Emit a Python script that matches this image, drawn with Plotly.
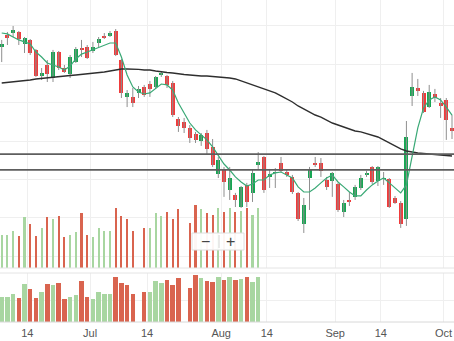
import plotly.graph_objects as go
import pandas as pd

# ---------------- data (Nifty-style daily candles, 2019) ----------------
holidays = ["2019-08-12", "2019-08-15", "2019-09-02", "2019-09-10", "2019-10-02"]
trade_days = [d for d in pd.bdate_range("2019-06-07", "2019-10-03")
              if d.strftime("%Y-%m-%d") not in holidays]

opens = [11863, 11941, 11954, 11961, 11883, 11909, 11844, 11674, 11746, 11661,
         11830, 11726, 11687, 11765, 11857, 11863, 11837, 11889, 11935, 11935,
         11967, 11778, 11538, 11538, 11564, 11603, 11622, 11603, 11681, 11674,
         11629, 11394, 11375, 11336, 11297, 11251, 11303, 11212, 11036, 11069,
         10932, 10900, 10821, 10965, 10913, 11095, 11147, 11017, 11043, 11108,
         11049, 11017, 10913, 10711, 11010, 11108, 11108, 10997, 10991, 10971,
         10789, 10867, 10887, 10945, 11030, 11082, 10991, 11004, 11004, 10880,
         10847, 10743, 11544, 11596, 11564, 11472, 11557, 11498, 11518, 11336]
highs = [11909, 11961, 12000, 11967, 11928, 11915, 11850, 11726, 11778, 11844,
         11837, 11746, 11811, 11863, 11909, 11876, 11896, 11928, 11954, 11967,
         11980, 11785, 11583, 11596, 11609, 11616, 11642, 11674, 11707, 11681,
         11642, 11407, 11401, 11355, 11310, 11303, 11323, 11264, 11147, 11082,
         11082, 10913, 10958, 10978, 11062, 11179, 11153, 11069, 11075, 11147,
         11062, 11030, 10919, 10880, 11082, 11147, 11140, 11017, 11049, 10978,
         10867, 10919, 10965, 11030, 11056, 11088, 11088, 11049, 11010, 10893,
         10860, 11381, 11694, 11655, 11577, 11616, 11590, 11531, 11531, 11420]
lows = [11765, 11876, 11928, 11876, 11824, 11811, 11668, 11648, 11635, 11635,
        11713, 11694, 11661, 11759, 11798, 11785, 11824, 11863, 11915, 11928,
        11804, 11531, 11472, 11472, 11531, 11538, 11538, 11590, 11668, 11596,
        11407, 11310, 11303, 11238, 11238, 11219, 11160, 11082, 11010, 10887,
        10867, 10821, 10815, 10821, 10854, 11069, 10913, 10945, 10945, 11049,
        11017, 10906, 10730, 10652, 10802, 11082, 11017, 10932, 10887, 10789,
        10756, 10828, 10867, 10932, 11017, 10971, 10958, 10965, 10815, 10841,
        10685, 10698, 11479, 11544, 11433, 11466, 11505, 11401, 11258, 11264]
closes = [11883, 11922, 11974, 11912, 11920, 11824, 11674, 11694, 11687, 11830,
          11726, 11700, 11798, 11850, 11847, 11791, 11863, 11915, 11922, 11954,
          11811, 11564, 11561, 11498, 11590, 11551, 11590, 11668, 11694, 11616,
          11420, 11349, 11336, 11271, 11258, 11290, 11199, 11095, 11127, 10984,
          11010, 10867, 10952, 10854, 11043, 11114, 10932, 11036, 11049, 11056,
          11030, 10919, 10743, 10834, 11062, 11098, 11056, 10952, 11043, 10802,
          10847, 10854, 10952, 11010, 11043, 10984, 11082, 11010, 10821, 10847,
          10711, 11277, 11603, 11577, 11440, 11570, 11531, 11479, 11388, 11316]
ema_fast = [11954, 11948, 11928, 11909, 11896, 11883, 11830, 11798, 11759, 11746,
            11733, 11713, 11739, 11785, 11817, 11830, 11844, 11863, 11876, 11889,
            11889, 11798, 11681, 11603, 11570, 11557, 11564, 11596, 11622, 11616,
            11583, 11498, 11433, 11368, 11323, 11290, 11258, 11212, 11153, 11101,
            11062, 11017, 10984, 10958, 10971, 10997, 10997, 11030, 11043, 11049,
            11030, 11010, 10952, 10919, 10919, 10945, 10978, 11010, 11030, 10984,
            10952, 10919, 10893, 10893, 10932, 10965, 10991, 11010, 10978, 10945,
            10913, 10965, 11160, 11336, 11466, 11518, 11538, 11518, 11472, 11420]
sma_slow = [11629, 11632, 11635, 11642, 11645, 11648, 11655, 11658, 11661, 11668,
            11671, 11674, 11677, 11681, 11684, 11687, 11690, 11694, 11700, 11707,
            11713, 11720, 11720, 11720, 11717, 11713, 11713, 11707, 11700, 11697,
            11694, 11687, 11684, 11681, 11677, 11674, 11674, 11671, 11668, 11668,
            11661, 11655, 11642, 11629, 11616, 11603, 11590, 11577, 11564, 11544,
            11525, 11505, 11479, 11459, 11440, 11420, 11407, 11388, 11368, 11355,
            11342, 11329, 11316, 11310, 11300, 11290, 11277, 11258, 11238, 11219,
            11199, 11186, 11179, 11173, 11170, 11166, 11163, 11160, 11157, 11153]
volume = [375, 375, 420, 360, 570, 495, 360, 450, 570, 555,
          585, 345, 375, 405, 615, 375, 345, 450, 420, 420,
          675, 585, 555, 420, None, 450, 450, 615, 585, 630,
          555, 660, None, 510, 705, 660, 615, 600, 675, 630,
          675, 630, 645, 675, 600, 675] + [None] * 34
levels = [11165, 11063]
tick_dates = ["2019-06-14", "2019-07-01", "2019-07-15", "2019-08-01",
              "2019-08-14", "2019-09-03", "2019-09-16", "2019-10-01"]
tick_labels = ["14", "Jul", "14", "Aug", "14", "Sep", "14", "Oct"]

# ---------------- styling ----------------
UP, DOWN = "#17a653", "#f03b3b"
VUP, VDOWN = "#a8d6a1", "#d9644f"
WICK = "#8f8f8f"
GRID = "#efefef"
DAY = 86400000
FONT = "Liberation Sans, Arial, sans-serif"

x = [d + pd.Timedelta(hours=12) for d in trade_days]
body_up = [c >= o for o, c in zip(opens, closes)]
body_base = [min(o, c) for o, c in zip(opens, closes)]
body_len = [max(abs(c - o), 5) for o, c in zip(opens, closes)]
vol_up = [True] + [closes[i] > closes[i - 1] for i in range(1, len(closes))]
vol_colors = [VUP if u else VDOWN for u in vol_up]

wx, wy = [], []
for xi, lo, hi in zip(x, lows, highs):
    wx += [xi, xi, None]
    wy += [lo, hi, None]

fig = go.Figure()
# volume inside the price panel
fig.add_trace(go.Bar(x=x, y=volume, marker=dict(color=vol_colors, line=dict(width=0)),
                     width=0.36 * DAY, xaxis="x", yaxis="y", hoverinfo="skip"))
# wicks
fig.add_trace(go.Scatter(x=wx, y=wy, mode="lines", line=dict(color=WICK, width=1),
                         xaxis="x", yaxis="y3", hoverinfo="skip"))
# bodies
fig.add_trace(go.Bar(x=x, y=body_len, base=body_base,
                     marker=dict(color=[UP if u else DOWN for u in body_up], line=dict(width=0)),
                     width=0.7 * DAY, xaxis="x", yaxis="y3", hoverinfo="skip"))
# moving averages
fig.add_trace(go.Scatter(x=x, y=sma_slow, mode="lines", line=dict(color="#2e2e2e", width=1.4),
                         xaxis="x", yaxis="y3", hoverinfo="skip"))
fig.add_trace(go.Scatter(x=x, y=ema_fast, mode="lines", line=dict(color="#3aa976", width=1.2),
                         xaxis="x", yaxis="y3", hoverinfo="skip"))
# lower volume panel
fig.add_trace(go.Bar(x=x, y=volume, marker=dict(color=vol_colors, line=dict(width=0)),
                     width=0.8 * DAY, xaxis="x2", yaxis="y2", hoverinfo="skip"))

rb = [dict(bounds=["sat", "mon"]), dict(values=holidays, dvalue=DAY)]
x_range = [x[0] - pd.Timedelta(hours=7.2), x[-1] + pd.Timedelta(hours=8.4)]

H_PLOT = 322.0
main_bottom = (H_PLOT - 268) / H_PLOT
low_top = (H_PLOT - 273) / H_PLOT


def py(p):
    return (H_PLOT - p) / H_PLOT


shapes = []
for lv in levels:
    shapes.append(dict(type="line", xref="paper", x0=0, x1=1, yref="y3", y0=lv, y1=lv,
                       line=dict(color="#5e5e5e", width=1.8)))
for yy, col in [(main_bottom, "#e4e4e4"), (low_top, "#e4e4e4"), (0, "#d8d8d8")]:
    shapes.append(dict(type="line", xref="paper", x0=0, x1=1, yref="paper", y0=yy, y1=yy,
                       line=dict(color=col, width=1)))
# zoom widget
shapes.append(dict(type="rect", xref="paper", yref="paper",
                   x0=192 / 454, x1=244 / 454, y0=py(250), y1=py(233),
                   fillcolor="rgba(255,255,255,0.94)", line=dict(color="#dedede", width=1)))
shapes.append(dict(type="line", xref="paper", yref="paper",
                   x0=219 / 454, x1=219 / 454, y0=py(248), y1=py(235),
                   line=dict(color="#d6d6d6", width=1)))
annotations = [
    dict(text="−", x=205 / 454, y=py(241.5), xref="paper", yref="paper",
         xanchor="center", yanchor="middle",
         showarrow=False, font=dict(size=16, color="#444", family=FONT)),
    dict(text="+", x=231 / 454, y=py(241.5), xref="paper", yref="paper",
         xanchor="center", yanchor="middle",
         showarrow=False, font=dict(size=16, color="#444", family=FONT)),
]

fig.update_layout(
    width=454, height=341,
    margin=dict(l=0, r=0, t=0, b=19),
    paper_bgcolor="white", plot_bgcolor="white",
    showlegend=False, barmode="overlay", bargap=0,
    font=dict(family=FONT, size=11, color="#555"),
    xaxis=dict(domain=[0, 1], anchor="y", range=x_range, rangebreaks=rb,
               tickmode="array", tickvals=tick_dates, showticklabels=False,
               showgrid=True, gridcolor=GRID, zeroline=False, showline=False, ticks=""),
    xaxis2=dict(domain=[0, 1], anchor="y2", matches="x", range=x_range, rangebreaks=rb,
                tickmode="array", tickvals=tick_dates, ticktext=tick_labels,
                showgrid=True, gridcolor=GRID, zeroline=False, showline=False, ticks="",
                ticklabelstandoff=3,
                tickfont=dict(size=11, color="#555", family=FONT), automargin=False),
    yaxis=dict(domain=[main_bottom, 1], anchor="x", range=[0, 3015],
               showgrid=False, showticklabels=False, zeroline=False, ticks=""),
    yaxis3=dict(overlaying="y", anchor="x", side="right", range=[10424, 12169],
                tick0=0, dtick=250, showgrid=True, gridcolor=GRID,
                showticklabels=False, zeroline=False, ticks=""),
    yaxis2=dict(domain=[0, low_top], anchor="x2", range=[0, 735],
                tickmode="array", tickvals=[330], showgrid=True, gridcolor=GRID,
                showticklabels=False, zeroline=False, ticks=""),
    shapes=shapes, annotations=annotations,
)

fig.write_html("out.html", include_plotlyjs=True, config={"displayModeBar": False})
